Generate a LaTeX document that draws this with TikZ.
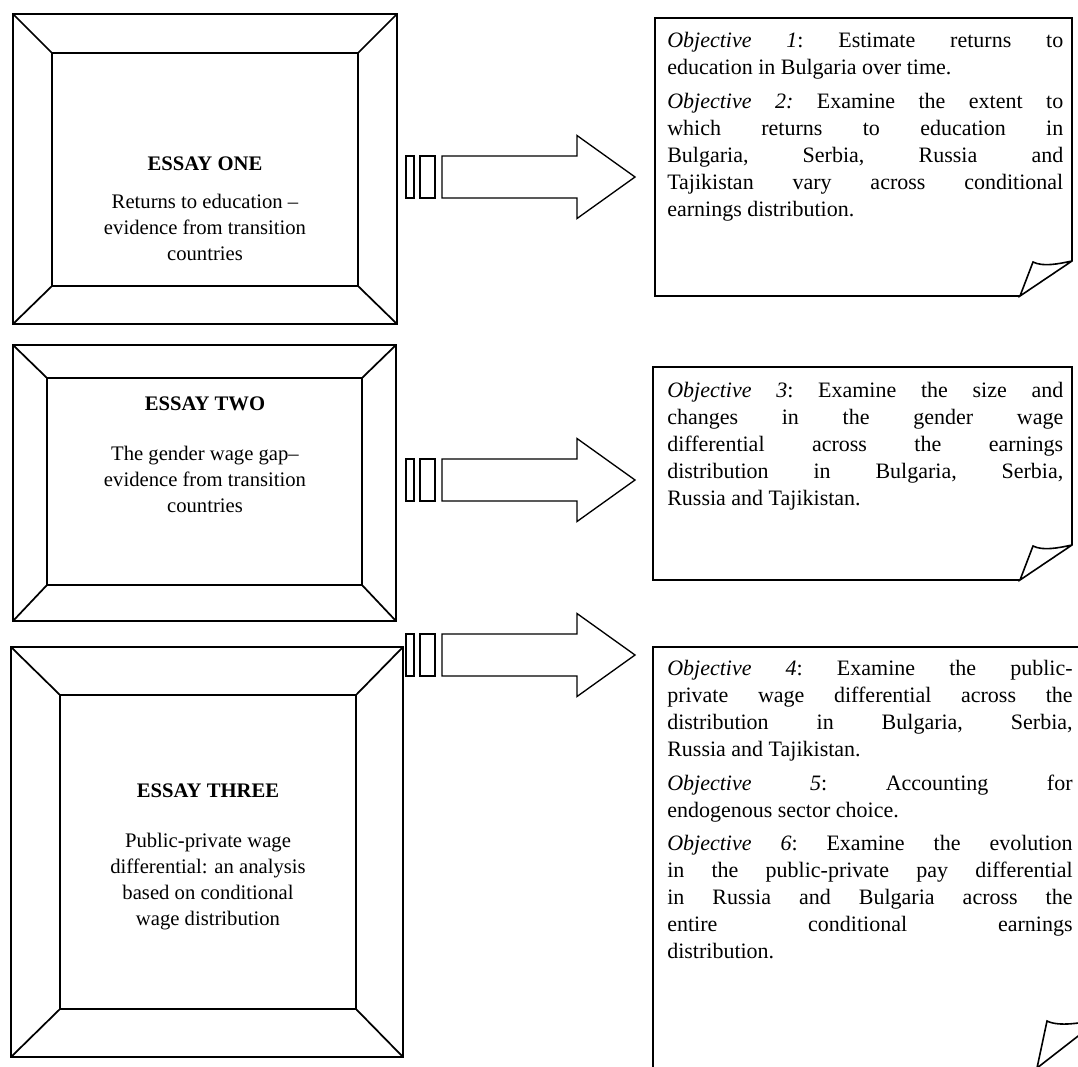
\documentclass[tikz,border=0pt]{standalone}
\usepackage{fontspec}
\setmainfont{Liberation Serif}
\tikzset{
  frame/.style={line width=1.3pt},
  notebox/.style={line width=1.2pt, line join=miter},
  bararrow/.style={line width=1pt},
  essaytext/.style={anchor=north, align=center, inner sep=0pt,
    font=\fontsize{15.5}{19.5}\selectfont},
  objtext/.style={anchor=north west, inner sep=0pt, text width=297pt,
    align=justify, font=\fontsize{16.5}{20.25}\selectfont\frenchspacing},
}
\begin{document}
\begin{tikzpicture}[x=0.75pt, y=-0.75pt]

    % 画面大小
    \useasboundingbox (0,0) rectangle (1078,1067);
    \clip (0,0) rectangle (1078,1067);

    % 左边三个斜角框
    \foreach \ax/\ay/\bx/\by/\cx/\cy/\dx/\dy in
      {13/14/397/324/52/53/358/286,
       13/345/396/621/47/378/362/585,
       11/647/403/1057/60/695/356/1009}{
      \draw[frame] (\ax,\ay) rectangle (\bx,\by);
      \draw[frame] (\cx,\cy) rectangle (\dx,\dy);
      \draw[frame] (\ax,\ay) -- (\cx,\cy);
      \draw[frame] (\bx,\ay) -- (\dx,\cy);
      \draw[frame] (\ax,\by) -- (\cx,\dy);
      \draw[frame] (\bx,\by) -- (\dx,\dy);
    }

    % 框里的文字
    \node[essaytext] (essayone) at (205,157)
      {\textbf{ESSAY ONE}\\[9pt] Returns to education –\\ evidence from transition\\ countries};
    \node[essaytext] (essaytwo) at (205,397)
      {\textbf{ESSAY TWO}\\[18pt] The gender wage gap–\\ evidence from transition\\ countries};
    \node[essaytext] (essaythree) at (208,784)
      {\textbf{ESSAY THREE}\\[18pt] Public-private wage\\ differential: an analysis\\ based on conditional\\ wage distribution};

    % 中间的箭头
    \foreach \y in {177,480,655}{
      \draw[bararrow] (406,\y-21) rectangle (414,\y+21);
      \draw[bararrow] (420,\y-21) rectangle (435,\y+21);
      \draw[bararrow] (442,\y-21) -- (577,\y-21) -- (577,\y-41.5) -- (635,\y)
        -- (577,\y+41.5) -- (577,\y+21) -- (442,\y+21) -- cycle;
    }

    % 右边的折角便签
    \draw[notebox] (1020,296) -- (655,296) -- (655,18) -- (1072,18) -- (1072,261) -- (1020,296)
      -- (1033,262) .. controls +(10,5) and +(-14,3) .. (1072,261);
    \draw[notebox] (1020,580) -- (653,580) -- (653,367) -- (1072,367) -- (1072,545) -- (1020,580)
      -- (1033,546) .. controls +(10,5) and +(-14,3) .. (1072,545);
    \draw[notebox] (1037,1068) -- (653,1068) -- (653,647) -- (1100,647) -- (1100,1019) -- (1037,1068)
      -- (1047,1021) .. controls +(12,6) and +(-18,4) .. (1100,1019);

    % 目标
    \node[objtext] (objone) at (667,32)
      {\emph{Objective 1}: Estimate returns to\linebreak education in Bulgaria over time.\\[5pt]
       \emph{Objective 2:} Examine the extent to\linebreak which returns to education in\linebreak
       Bulgaria, Serbia, Russia and\linebreak Tajikistan vary across conditional\linebreak
       earnings distribution.};
    \node[objtext] (objthree) at (667,382)
      {\emph{Objective 3}: Examine the size and\linebreak changes in the gender wage\linebreak
       differential across the earnings\linebreak distribution in Bulgaria, Serbia,\linebreak
       Russia and Tajikistan.};
    \node[objtext, text width=304pt] (objfour) at (667,660)
      {\emph{Objective 4}: Examine the public-\linebreak private wage differential across the\linebreak
       distribution in Bulgaria, Serbia,\linebreak Russia and Tajikistan.\\[5pt]
       \emph{Objective 5}: Accounting for\linebreak endogenous sector choice.\\[5pt]
       \emph{Objective 6}: Examine the evolution\linebreak in the public-private pay differential\linebreak
       in Russia and Bulgaria across the\linebreak entire conditional earnings\linebreak
       distribution.};

\end{tikzpicture}
\end{document}
